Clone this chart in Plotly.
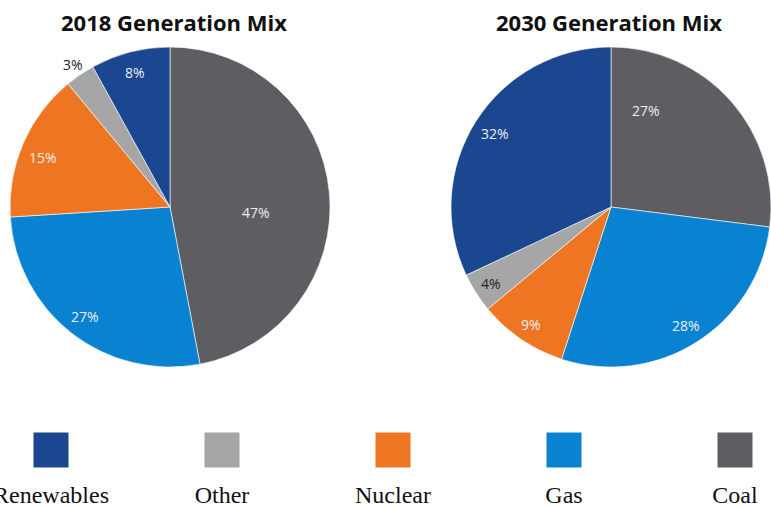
import numpy as np
import plotly.graph_objects as go

# Generation share by source, listed clockwise from 12 o'clock
sources = ["Coal", "Gas", "Nuclear", "Other", "Renewables"]
mix_2018 = [47, 27, 15, 3, 8]
mix_2030 = [27, 28, 9, 4, 32]

# Legend order along the bottom row
legend_order = ["Renewables", "Other", "Nuclear", "Gas", "Coal"]

palette = {
    "Coal": "#5E5E62",
    "Gas": "#0A82D2",
    "Nuclear": "#EE7623",
    "Other": "#A6A6A6",
    "Renewables": "#1A4790",
}

# Percentage label placement: fraction of the radius and an angular
# nudge (degrees, clockwise) away from each slice's bisector
label_radius_2018 = [0.54, 0.87, 0.85, 1.08, 0.87]
label_shift_2018 = [9.3, 0, -2, 0, 0]
label_radius_2030 = [0.64, 0.875, 0.89, 0.89, 0.86]
label_shift_2030 = [-28.6, 0, 0, 0, 0]
dark_labels_2018 = {"Other"}
dark_labels_2030 = {"Other"}

W, H = 771, 508
R = 160  # pie radius in pixels


def px_x(x):
    return x / W


def px_y(y):
    return 1 - y / H


def pie(values, cx, cy):
    return go.Pie(
        labels=sources,
        values=values,
        sort=False,
        direction="clockwise",
        rotation=0,
        marker=dict(colors=[palette[s] for s in sources],
                    line=dict(color="#FFFFFF", width=0.6)),
        textinfo="none",
        domain=dict(x=[px_x(cx - R), px_x(cx + R)],
                    y=[px_y(cy + R), px_y(cy - R)]),
        showlegend=False,
        hoverinfo="label+percent",
    )


def slice_labels(values, cx, cy, radii, shifts, dark):
    vals = np.asarray(values, dtype=float)
    mids = (np.cumsum(vals) - vals / 2) / vals.sum() * 2 * np.pi
    mids = mids + np.radians(shifts)
    notes = []
    for s, v, a, f in zip(sources, values, mids, radii):
        x = cx + f * R * np.sin(a)
        y = cy - f * R * np.cos(a)
        notes.append(dict(
            text=f"{v}%", x=px_x(x), y=px_y(y), xref="paper", yref="paper",
            xanchor="center", yanchor="middle", showarrow=False,
            font=dict(family="Open Sans", size=14,
                      color="#222222" if s in dark else "#EEEEEE"),
        ))
    return notes


fig = go.Figure()
fig.add_trace(pie(mix_2018, 170, 207))
fig.add_trace(pie(mix_2030, 611, 207))

# Legend row: swatches above serif labels, on its own hidden axis
idx = list(range(len(legend_order)))
fig.add_trace(go.Scatter(
    x=idx, y=[0.57] * len(idx), mode="markers",
    marker=dict(symbol="square", size=35,
                color=[palette[s] for s in legend_order],
                line=dict(width=0)),
    showlegend=False, hoverinfo="skip", xaxis="x", yaxis="y",
))
fig.add_trace(go.Scatter(
    x=idx, y=[0.105] * len(idx), mode="text", text=legend_order,
    textfont=dict(family="Liberation Serif", size=24, color="#111111"),
    cliponaxis=False,
    showlegend=False, hoverinfo="skip", xaxis="x", yaxis="y",
))

titles = [
    dict(text="<b>2018 Generation Mix</b>", x=px_x(174), y=px_y(22),
         xref="paper", yref="paper", xanchor="center", yanchor="middle",
         showarrow=False,
         font=dict(family="Open Sans", size=22, color="#111111")),
    dict(text="<b>2030 Generation Mix</b>", x=px_x(609), y=px_y(22),
         xref="paper", yref="paper", xanchor="center", yanchor="middle",
         showarrow=False,
         font=dict(family="Open Sans", size=22, color="#111111")),
]

fig.update_layout(
    width=W, height=H,
    margin=dict(l=0, r=0, t=0, b=0),
    paper_bgcolor="white", plot_bgcolor="white",
    xaxis=dict(range=[-51 / 171, (W - 51) / 171], domain=[0, 1],
               visible=False, fixedrange=True),
    yaxis=dict(range=[0, 1], domain=[0, 0.2], visible=False, fixedrange=True),
    annotations=titles
    + slice_labels(mix_2018, 170, 207, label_radius_2018, label_shift_2018,
                   dark_labels_2018)
    + slice_labels(mix_2030, 611, 207, label_radius_2030, label_shift_2030,
                   dark_labels_2030),
)

fig.write_html("out.html")
